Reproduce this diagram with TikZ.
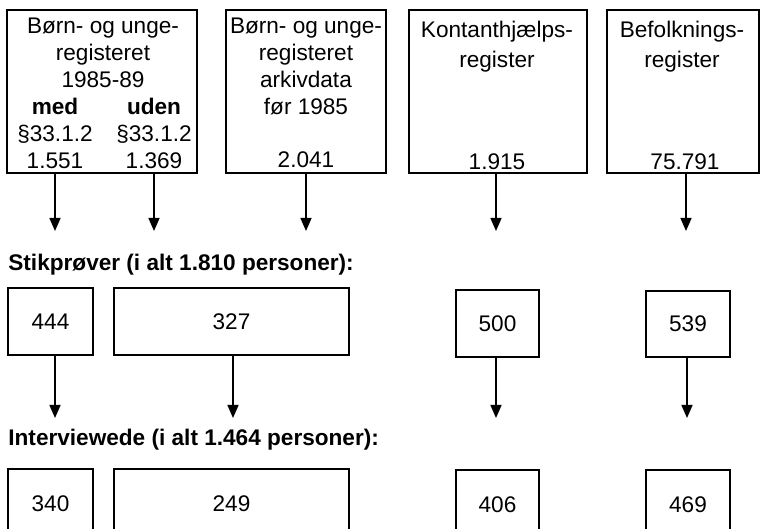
\documentclass[tikz,border=0pt]{standalone}
\usepackage{fontspec}
\setmainfont{Liberation Sans}
\usetikzlibrary{arrows.meta}
\tikzset{
  regbox/.style={draw, line width=1pt, minimum height=81.5pt, inner sep=0pt},
  tallbox/.style={draw, line width=1pt, inner sep=0pt},
  txt/.style={align=center, inner sep=0pt, font=\fontsize{11.3}{13.5}\selectfont},
  lbl/.style={anchor=west, inner sep=0pt, font=\fontsize{11.3}{13.5}\selectfont\bfseries},
  flow/.style={line width=0.75pt, -{Triangle[length=6.5pt,width=5.5pt]}},
}
\begin{document}
\begin{tikzpicture}[x=0.5pt, y=-0.5pt]
            \clip (0,0) rectangle (761,529);
            \node[regbox, minimum width=95pt] (reg1) at (102,91.5) {};
            \node[regbox, minimum width=80pt] (reg2) at (306,91.5) {};
            \node[regbox, minimum width=89pt] (reg3) at (498,91.5) {};
            \node[regbox, minimum width=76pt] (reg4) at (683,91.5) {};

            \node[txt] (navn1) at (103,53) {Børn- og unge-\\registeret\\1985-89};
            \node[txt] (med) at (55,133) {\textbf{med}\\§33.1.2\\1.551};
            \node[txt] (uden) at (154,133) {\textbf{uden}\\§33.1.2\\1.369};
            \node[txt] (navn2) at (306,66.5) {Børn- og unge-\\registeret\\arkivdata\\før 1985};
            \node[txt] (antal2) at (306,160) {2.041};
            \node[txt] (navn3) at (497,47) {Kontanthjælps-\\[1.5pt]register};
            \node[txt] (antal3) at (497,162) {1.915};
            \node[txt] (navn4) at (682,47) {Befolknings-\\[1.5pt]register};
            \node[txt] (antal4) at (685,162) {75.791};

            \coordinate (t1) at (55,231);
            \coordinate (t2) at (154,231);
            \coordinate (t3) at (306,231);
            \coordinate (t4) at (496,231);
            \coordinate (t5) at (686,231);
            \foreach \a/\b in {reg1/t1, reg1/t2, reg2/t3, reg3/t4, reg4/t5} {
                \draw[flow] (\a.south -| \b) -- (\b);
            }

            \node[lbl] (stik) at (8,265) {Stikprøver (i alt 1.810 personer):};

            \node[tallbox, minimum width=42.5pt, minimum height=33.5pt] (s1) at (50.5,321.5) {};
            \node[tallbox, minimum width=117.5pt, minimum height=33.5pt] (s2) at (231.5,321.5) {};
            \node[tallbox, minimum width=41.5pt, minimum height=33.5pt] (s3) at (497.5,323.5) {};
            \node[tallbox, minimum width=42pt, minimum height=33pt] (s4) at (688,324) {};
            \node[txt] at (s1) {444};
            \node[txt] at (s2) {327};
            \node[txt] at (s3) {500};
            \node[txt] at (s4) {539};

            \coordinate (u1) at (55,418);
            \coordinate (u2) at (233,418);
            \coordinate (u3) at (496,418);
            \coordinate (u4) at (687,418);
            \foreach \a/\b in {s1/u1, s2/u2, s3/u3, s4/u4} {
                \draw[flow] (\a.south -| \b) -- (\b);
            }

            \node[lbl] (intv) at (8,440) {Interviewede (i alt 1.464 personer):};

            \node[tallbox, minimum width=42.5pt, minimum height=35pt] (i1) at (50.5,504) {};
            \node[tallbox, minimum width=117.5pt, minimum height=35pt] (i2) at (231.5,504) {};
            \node[tallbox, minimum width=41.5pt, minimum height=35pt] (i3) at (497.5,504.5) {};
            \node[tallbox, minimum width=42pt, minimum height=35pt] (i4) at (688,505) {};
            \node[txt] at (i1) {340};
            \node[txt] at (i2) {249};
            \node[txt] at (i3) {406};
            \node[txt] at (i4) {469};
        \end{tikzpicture}
\end{document}
